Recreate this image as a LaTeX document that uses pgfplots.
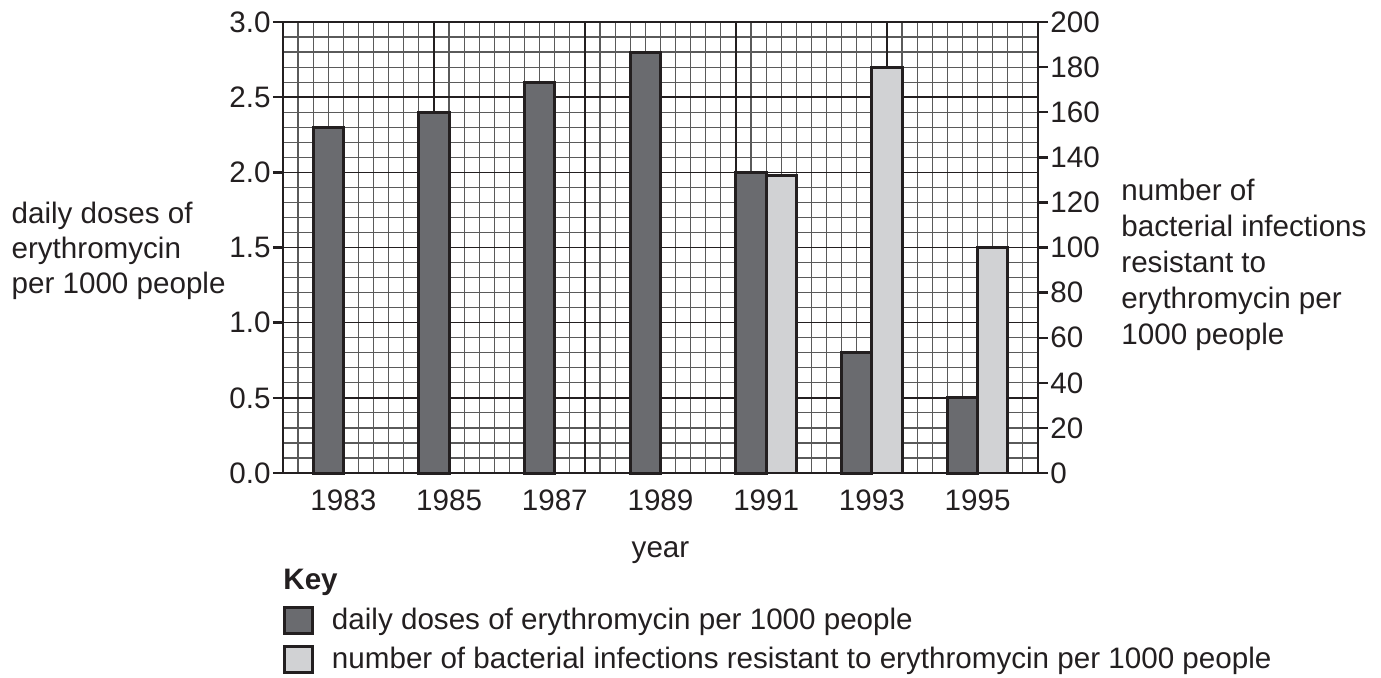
\documentclass[border=0pt]{standalone}
\usepackage{fontspec}
\setmainfont{Liberation Sans}
\usepackage{pgfplots}
\pgfplotsset{compat=1.18}
\definecolor{ink}{HTML}{231F20}
\definecolor{darkbar}{HTML}{6A6B6F}
\definecolor{lightbar}{HTML}{D1D2D4}
\definecolor{gridgray}{HTML}{5A5A5A}
\begin{document}
\begin{tikzpicture}[font=\fontsize{14.8}{18}\selectfont, text=ink]
\begin{axis}[
  width=377.5pt, height=225.5pt, scale only axis,
  xmin=0, xmax=50, ymin=0, ymax=3,
  clip=false,
  axis line style={ink, line width=1.3pt},
  xtick={4,11,...,46},
  xticklabels={1983,1985,1987,1989,1991,1993,1995},
  xtick style={draw=none},
  xticklabel style={yshift=0pt},
  minor xtick={0,1,...,50},
  extra x ticks={10,20,30,40},
  extra x tick labels={,,,},
  extra x tick style={xmajorgrids=true, major tick length=0pt, major grid style={ink, line width=0.8pt}},
  xmajorgrids=false, xminorgrids=true,
  ytick={0,0.5,...,3},
  minor ytick={0,0.1,...,3},
  ymajorgrids=true, yminorgrids=true,
  major grid style={ink, line width=0.8pt},
  minor grid style={gridgray, line width=0.6pt},
  tick align=outside,
  ytick pos=left, xtick pos=bottom,
  major tick length=5pt, minor tick length=0pt,
  ytick style={ink, line width=1.2pt},
  yticklabel style={/pgf/number format/.cd, fixed, fixed zerofill, precision=1, assume math mode=true, /tikz/.cd, inner sep=1pt},
  xlabel={year},
  x label style={at={(axis description cs:0.5,0)}, anchor=center, yshift=-40pt},
  legend style={at={(rel axis cs:0,0)}, anchor=north west, yshift=-66.5pt,
    draw=none, fill=none, inner sep=0pt, outer sep=0pt, row sep=5pt,
    nodes={inner sep=1pt, text=ink},
    /tikz/every odd column/.append style={column sep=8pt}},
  legend cell align=left,
]
\addlegendimage{legend image code/.code={\draw[fill=darkbar, draw=ink, line width=1.5pt] (0pt,-6.5pt) rectangle (14pt,6.5pt);}}
\addlegendentry{daily doses of erythromycin per 1000 people}
\addlegendimage{legend image code/.code={\draw[fill=lightbar, draw=ink, line width=1.5pt] (0pt,-6.5pt) rectangle (14pt,6.5pt);}}
\addlegendentry{number of bacterial infections resistant to erythromycin per 1000 people}
\addplot[ybar, bar width=2, bar shift=0pt, fill=darkbar, draw=ink, line width=1.5pt, forget plot]
  coordinates {(3,2.3) (10,2.4) (17,2.6) (24,2.8) (31,2.0) (38,0.8) (45,0.5)};
\node[anchor=east, align=left, inner sep=0pt, font=\fontsize{14.8}{17.5}\selectfont] at (rel axis cs:0,0.493) [xshift=-28.5pt] {daily doses of\\erythromycin\\per 1000 people};
\node[anchor=west, align=left, inner sep=0pt] at (rel axis cs:1,0.462) [xshift=41.5pt] {number of\\bacterial infections\\resistant to\\erythromycin per\\1000 people};
\node[anchor=base west, inner sep=0pt, font=\fontsize{14.8}{18}\selectfont\bfseries] at (rel axis cs:0,0) [yshift=-58pt] {Key};
\coordinate (O) at (rel axis cs:0,0);
\end{axis}
\begin{axis}[
  width=377.5pt, height=225.5pt, scale only axis,
  xmin=0, xmax=50, ymin=0, ymax=200,
  axis y line*=right, axis x line=none,
  axis line style={ink, line width=1.3pt},
  ytick={0,20,...,200},
  tick align=outside,
  major tick length=5pt, minor tick length=0pt,
  ytick style={ink, line width=1.2pt},
  yticklabel style={/pgf/number format/assume math mode=true, inner sep=1pt},
]
\addplot[ybar, bar width=2, bar shift=0pt, fill=lightbar, draw=ink, line width=1.5pt]
  coordinates {(33,132) (40,180) (47,100)};
\end{axis}
\path ([shift={(-141.5pt,-102pt)}]O) rectangle ([shift={(549pt,236.5pt)}]O);
\end{tikzpicture}
\end{document}
